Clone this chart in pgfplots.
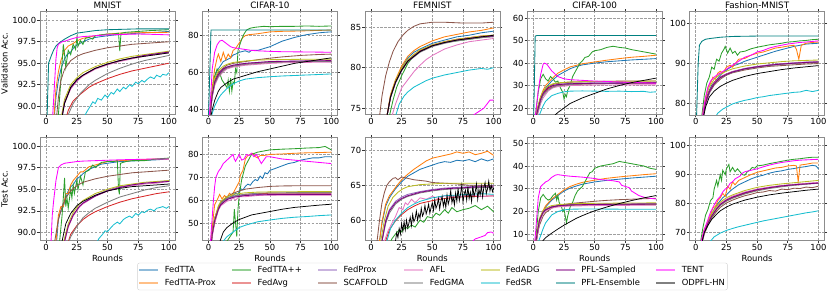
\documentclass[border=0pt]{standalone}
\usepackage{pgfplots}
\pgfplotsset{compat=1.18}
\usepackage{fontspec}
\setmainfont{DejaVu Sans}
\definecolor{cA}{HTML}{1F77B4}
\definecolor{cB}{HTML}{FF7F0E}
\definecolor{cC}{HTML}{2CA02C}
\definecolor{cD}{HTML}{D62728}
\definecolor{cE}{HTML}{9467BD}
\definecolor{cF}{HTML}{8C564B}
\definecolor{cG}{HTML}{E377C2}
\definecolor{cH}{HTML}{7F7F7F}
\definecolor{cI}{HTML}{BCBD22}
\definecolor{cJ}{HTML}{17BECF}
\definecolor{cK}{HTML}{800080}
\definecolor{cL}{HTML}{008080}
\definecolor{cM}{HTML}{FF00FF}
\definecolor{cN}{HTML}{000000}
\pgfplotsset{
 every axis title/.style={at={(0.5,1)}, anchor=south, yshift=1.5pt, inner sep=1pt, font=\fontsize{8.8}{10}\selectfont},
 panel/.style={scale only axis, width=135pt, height=103pt, anchor=north west,
   xmin=-5, xmax=105, xtick={0,25,50,75,100}, no markers,
   grid=major, grid style={dash pattern=on 2.6pt off 1.3pt, gray!75, line width=0.5pt},
   axis line style={gray!90}, tick align=outside, major tick length=2.5pt,
   tick style={black!80, line width=0.6pt},
   /pgf/number format/assume math mode=true,
   tick label style={font=\fontsize{8.4}{9}\selectfont, inner sep=1pt},
   label style={font=\fontsize{8.4}{10}\selectfont},
   every axis plot/.append style={line width=0.85pt},
 },
 pA/.style={cA}, pB/.style={cB}, pC/.style={cC}, pD/.style={cD}, pE/.style={cE},
 pF/.style={cF}, pG/.style={cG}, pH/.style={cH}, pI/.style={cI}, pJ/.style={cJ},
 pK/.style={cK}, pL/.style={cL}, pM/.style={cM}, pN/.style={cN, line width=0.75pt},
 intfmt/.style={yticklabel style={/pgf/number format/.cd, fixed, precision=0}},
}
\begin{document}
\begin{tikzpicture}
\useasboundingbox (0,0) rectangle (830pt,-294pt);
% ---------------- Row 1: Validation ----------------
\begin{axis}[panel, at={(40pt,-11.7pt)}, title={MNIST}, ylabel={Validation Acc.},
  ymin=89, ymax=101, ytick={90,92.5,95,97.5,100},
  yticklabel style={/pgf/number format/.cd, fixed, fixed zerofill, precision=1}]
\addplot[pA] coordinates {(0,80)(5,86)(8,91)(10,93)(12,94.3)(15,95.5)(17,96)(20,96.3)(23,96.9)(25,97.1)(30,97.5)(35,97.8)(40,98)(50,98.2)(60,98.35)(75,98.5)(90,98.6)(100,98.7)};
\addplot[pB] coordinates {(0,80)(5,86)(8,92)(10,94)(12,95.3)(15,96.5)(18,97)(22,97.3)(25,97.6)(30,97.9)(40,98.2)(50,98.4)(60,98.5)(75,98.55)(100,98.6)};
\addplot[pC] coordinates {(0,80)(8,86)(10,89)(12,93)(14,97.2)(15,96)(16,94.5)(18,96.5)(20,96)(22,97.2)(24,96.6)(25,97.9)(26,97)(28,97.6)(30,97.2)(32,97.9)(35,98)(38,97.8)(40,98.2)(45,98.3)(50,98.4)(55,98.4)(59,98.5)(60,96.4)(61,98.5)(65,98.6)(75,98.7)(85,98.8)(100,98.9)};
\addplot[pD] coordinates {(10,82)(15,88)(18,89.5)(22,90.6)(28,91.4)(35,92.2)(40,92.6)(50,93.2)(60,93.7)(70,94.1)(80,94.4)(90,94.7)(100,95.0)};
\addplot[pE] coordinates {(8,82)(12,88)(15,90.5)(20,92.2)(25,93)(30,93.6)(40,94.4)(50,94.9)(60,95.3)(70,95.6)(80,95.9)(90,96.1)(100,96.3)};
\addplot[pF] coordinates {(5,82)(8,88)(10,91)(12,93)(15,94.3)(20,95.3)(25,95.8)(30,96.1)(40,96.5)(50,96.8)(60,97)(70,97.2)(80,97.3)(90,97.4)(100,97.5)};
\addplot[pG] coordinates {(8,82)(12,88)(15,90.3)(20,92)(25,92.9)(30,93.5)(40,94.3)(50,94.8)(60,95.2)(70,95.5)(80,95.8)(90,96)(100,96.2)};
\addplot[pH] coordinates {(10,82)(15,87.5)(18,89)(22,90.3)(28,91.5)(35,92.5)(40,93)(50,93.8)(60,94.4)(70,94.9)(80,95.3)(90,95.6)(100,95.9)};
\addplot[pI] coordinates {(8,82)(12,88.5)(15,90.8)(20,92.5)(25,93.3)(30,93.9)(40,94.6)(50,95.1)(60,95.5)(70,95.8)(80,96)(90,96.2)(100,96.4)};
\addplot[pJ] coordinates {(25,86)(30,88.5)(33,89.3)(36,90)(38,90.5)(40,90.3)(42,90.9)(45,90.7)(48,91.3)(50,91)(53,91.6)(55,91.4)(58,92)(60,91.7)(63,92.2)(65,92)(68,92.5)(70,92.3)(73,92.8)(75,92.6)(78,93)(80,92.8)(83,93.2)(85,93.4)(88,93.2)(90,93.6)(93,93.4)(95,93.7)(98,93.6)(100,93.9)};
\addplot[pK] coordinates {(8,82)(12,88)(15,90.4)(20,92.1)(25,93)(30,93.6)(40,94.4)(50,94.9)(60,95.3)(70,95.6)(80,95.9)(90,96.1)(100,96.3)};
\addplot[pL] coordinates {(0,80)(1,90)(2,95)(4,95.8)(6,96.5)(8,97)(10,97.3)(15,97.8)(20,98.2)(25,98.5)(30,98.6)(40,98.8)(50,98.9)(75,99)(100,99)};
\addplot[pM] coordinates {(3,82)(5,88)(7,93)(8,95.5)(9,96.8)(10,97.2)(13,97.5)(16,97.6)(20,97.8)(25,98)(30,98.1)(40,98.2)(50,98.3)(75,98.4)(90,98.35)(100,98.3)};
\addplot[pN] coordinates {(8,82)(12,88)(15,90.3)(20,92.2)(25,93.1)(30,93.6)(40,94.4)(50,94.9)(60,95.3)(70,95.6)(80,95.8)(90,96)(100,96.2)};
\end{axis}
\begin{axis}[panel, intfmt, at={(202.4pt,-11.7pt)}, title={CIFAR-10},
  ymin=37.3, ymax=92.9, ytick={40,60,80}]
\addplot[pA] coordinates {(0,30)(3,50)(5,58)(7,61)(10,64)(12,66)(15,67)(18,68)(20,69.5)(22,70)(25,71)(28,71.5)(30,71.8)(33,71)(35,72)(40,72)(45,73)(50,74)(55,75.5)(60,77)(65,78)(70,79)(75,79.8)(80,80.5)(85,81)(90,81.5)(95,81.8)(100,82)};
\addplot[pB] coordinates {(0,30)(3,52)(5,62)(7,68)(8,70)(10,66)(12,71)(14,67)(16,70)(18,68)(20,72)(22,73)(24,75)(26,77)(28,79)(30,80)(33,80.5)(40,81)(50,82)(60,82.3)(75,82.5)(90,82.8)(100,83)};
\addplot[pC] coordinates {(0,30)(3,50)(5,58)(7,62)(9,60)(11,56)(13,54)(15,52)(16,56)(17,50)(18,57)(19,50)(20,55)(21,54)(22,62)(23,60)(24,72)(25,74)(27,78)(29,81)(31,83)(34,84)(38,84.5)(45,85)(50,84.8)(60,85)(70,85)(80,85.2)(90,85)(100,85.2)};
\addplot[pD] coordinates {(0,30)(3,48)(5,54)(8,58.5)(12,61.5)(15,62.5)(20,63.5)(30,64.5)(40,65)(50,65.5)(60,65.8)(75,66)(100,66.2)};
\addplot[pE] coordinates {(0,30)(3,48)(5,55)(8,59)(12,62)(15,63)(20,64)(30,65)(40,65.5)(50,65.8)(60,66)(75,66.2)(100,66.3)};
\addplot[pF] coordinates {(0,30)(3,50)(5,56)(8,60)(12,62.5)(15,64)(20,65)(30,66)(40,67)(50,67.8)(60,68.5)(75,69.3)(90,69.8)(100,70)};
\addplot[pG] coordinates {(0,30)(3,47)(5,53)(8,57.5)(12,60.5)(15,62)(20,63)(30,64)(40,64.5)(50,65)(60,65.3)(75,65.5)(100,65.7)};
\addplot[pH] coordinates {(0,30)(3,47)(5,54)(8,58)(12,61)(15,62.5)(20,63.5)(30,64.5)(40,65)(50,65.5)(75,66)(100,66)};
\addplot[pI] coordinates {(0,30)(3,50)(5,57)(8,61)(12,63.5)(15,64.5)(20,65.5)(30,66.3)(40,66.8)(50,67)(75,67.2)(100,67.3)};
\addplot[pJ] coordinates {(0,30)(3,38)(5,42)(8,46)(10,48)(15,51.5)(20,54)(25,55.5)(30,56.5)(40,57.3)(50,57.8)(60,58.2)(75,58.6)(90,59)(100,59.3)};
\addplot[pK] coordinates {(0,30)(3,48)(5,55)(8,59)(12,62)(15,63)(20,64)(30,65)(40,65.5)(50,66)(75,66.3)(100,66.5)};
\addplot[pL] coordinates {(0,37)(1,60)(2,83)(5,83)(100,83)};
\addplot[pM] coordinates {(0,30)(2,50)(3,62)(5,71)(7,75)(9,77)(11,77.5)(13,76.5)(15,75.5)(18,74)(20,73.5)(25,73)(30,72.5)(35,72)(40,71.8)(50,71.5)(60,71.3)(75,71.2)(100,71)};
\addplot[pN] coordinates {(0,30)(3,40)(5,45)(8,50)(10,52)(15,54.5)(20,56.5)(25,57.5)(30,58.5)(40,60.5)(50,62)(60,63.5)(70,65)(80,66)(90,67)(100,68)};
\end{axis}
\begin{axis}[panel, intfmt, at={(364.8pt,-11.7pt)}, title={FEMNIST},
  ymin=74.2, ymax=86.9, ytick={75,80,85}]
\addplot[pA] coordinates {(10,70)(13,74)(16,76.5)(20,78.3)(25,80)(30,81.2)(35,81.9)(40,82.3)(50,83)(60,83.4)(70,83.8)(80,84)(90,84.3)(100,84.5)};
\addplot[pB] coordinates {(10,70)(13,74)(16,76.7)(20,78.5)(25,80.2)(30,81.4)(35,82.1)(40,82.6)(50,83.3)(60,83.8)(70,84.1)(80,84.4)(90,84.6)(100,84.9)};
\addplot[pC] coordinates {(12,70)(15,74)(18,76)(21,77.6)(25,79)(30,80.5)(35,81.5)(40,82)(50,82.7)(60,83.1)(75,83.4)(90,83.7)(100,83.9)};
\addplot[pD] coordinates {(10,70)(13,74)(16,76.5)(20,78.3)(25,79.8)(30,80.9)(35,81.6)(40,82.1)(50,82.8)(60,83.2)(70,83.5)(80,83.7)(90,83.9)(100,84)};
\addplot[pE] coordinates {(10,70)(13,74)(16,76.4)(20,78.2)(25,79.7)(30,80.8)(35,81.5)(40,82)(50,82.7)(60,83.1)(70,83.4)(80,83.6)(90,83.8)(100,83.9)};
\addplot[pF] coordinates {(5,70)(7,74)(9,76.5)(12,79)(15,80.7)(18,82)(22,83.2)(26,84)(30,84.6)(35,85.1)(40,85.4)(50,85.6)(60,85.6)(75,85.5)(90,85.5)(100,85.6)};
\addplot[pG] coordinates {(14,70)(17,74)(20,75.5)(25,77.5)(30,78.5)(35,79.5)(40,80.3)(45,81)(50,81.5)(60,82.3)(70,82.8)(80,83.2)(90,83.4)(100,83.6)};
\addplot[pH] coordinates {(10,70)(13,74)(16,76.3)(20,78.1)(25,79.6)(30,80.7)(40,81.9)(50,82.6)(60,83)(70,83.3)(80,83.5)(90,83.7)(100,83.8)};
\addplot[pI] coordinates {(10,70)(13,74)(16,76.6)(20,78.4)(25,79.9)(30,81)(40,82.2)(50,82.8)(60,83.2)(70,83.5)(80,83.7)(90,83.9)(100,84)};
\addplot[pJ] coordinates {(17,70)(20,74)(23,75.5)(27,76.5)(30,77)(35,77.6)(40,78)(45,78.4)(50,78.7)(55,78.9)(60,79.1)(70,79.4)(80,79.7)(90,79.9)(95,79.8)(100,80)};
\addplot[pK] coordinates {(10,70)(13,74)(16,76.4)(20,78.2)(25,79.7)(30,80.8)(40,82)(50,82.7)(60,83.1)(70,83.4)(80,83.6)(90,83.8)(100,83.9)};
\addplot[pM] coordinates {(80,73)(84,74.2)(88,74.6)(92,75)(95,75.6)(97,76)(100,76)};
\addplot[pN] coordinates {(10,70)(13,74)(16,76.4)(20,78.2)(25,79.7)(30,80.8)(40,82)(50,82.7)(60,83.1)(70,83.4)(80,83.6)(90,83.8)(100,84)};
\end{axis}
\begin{axis}[panel, intfmt, at={(527.2pt,-11.7pt)}, title={CIFAR-100},
  ymin=17, ymax=62.9, ytick={20,30,40,50,60}]
\addplot[pA] coordinates {(0,10)(2,15)(4,20)(6,24)(8,27)(10,29)(15,32)(20,34.5)(25,36)(30,37.5)(35,38.5)(40,39.2)(50,40)(60,40.6)(70,41)(80,41.4)(90,41.7)(100,42)};
\addplot[pB] coordinates {(0,10)(2,15)(4,21)(6,25)(8,28)(10,30)(15,33)(20,35.5)(25,37)(30,38.3)(35,39)(40,39.7)(50,40.5)(60,41.3)(70,42)(80,42.6)(90,43)(100,43.5)};
\addplot[pC] coordinates {(0,10)(2,18)(4,27)(6,33)(8,35)(10,33)(12,32)(14,34)(16,33)(18,31.5)(20,32)(22,29)(24,27)(25,24)(26,26)(27,25)(28,28)(30,30)(32,34)(34,36)(36,38)(38,40)(40,41)(42,42.5)(45,43)(48,45)(50,45.5)(55,46)(60,47)(65,47.5)(70,47)(75,46.7)(80,46)(85,45.5)(90,45)(95,44.5)(100,44)};
\addplot[pD] coordinates {(0,10)(3,18)(6,24)(8,26)(12,28.5)(16,29.5)(20,30)(30,30.5)(50,30.8)(75,31)(100,31)};
\addplot[pE] coordinates {(0,10)(3,18)(6,24.5)(8,26.5)(12,29)(16,30)(20,30.5)(30,31)(50,31.2)(75,31.3)(100,31.4)};
\addplot[pF] coordinates {(0,10)(3,19)(6,25)(8,27)(12,29.5)(16,30.5)(20,31)(30,31.5)(50,31.8)(75,32)(100,32)};
\addplot[pG] coordinates {(0,10)(3,16)(6,22)(8,24.5)(12,27.5)(16,29)(20,29.5)(30,30)(50,30.2)(75,30.3)(100,30.3)};
\addplot[pH] coordinates {(0,10)(3,17)(6,23)(8,25.5)(12,28)(16,29.3)(20,30)(30,30.5)(50,30.8)(75,31)(100,31)};
\addplot[pI] coordinates {(0,10)(3,19)(6,25)(8,27.5)(12,29.8)(16,30.8)(20,31.2)(30,31.6)(50,31.8)(75,31.9)(100,32)};
\addplot[pJ] coordinates {(0,10)(3,13)(5,17)(8,21)(10,23)(15,25.5)(20,26.5)(25,27.2)(30,27.5)(40,27.6)(50,27.5)(60,27.4)(70,27.5)(80,27.3)(90,27.4)(95,27)(100,27.2)};
\addplot[pK] coordinates {(0,10)(3,18)(6,24)(8,26.5)(12,29)(16,30)(20,30.4)(30,30.8)(50,31)(75,31.1)(100,31.2)};
\addplot[pL] coordinates {(0,10)(0.8,30)(1.5,52)(3,52.3)(100,52.3)};
\addplot[pM] coordinates {(0,10)(2,18)(4,28)(6,35)(8,39.5)(9,40)(11,39.5)(13,38)(15,36.5)(18,35)(20,34)(25,33)(30,32.6)(40,32.3)(50,32)(60,31.8)(75,31.5)(90,31.2)(100,31)};
\addplot[pN] coordinates {(5,10)(10,12)(15,15.5)(20,18)(25,20)(30,22)(40,24.5)(50,26.5)(60,28.5)(70,30)(80,31.3)(90,32.3)(100,33.3)};
\end{axis}
\begin{axis}[panel, intfmt, at={(689.6pt,-11.7pt)}, title={Fashion-MNIST},
  ymin=77.1, ymax=102.9, ytick={80,90,100}]
\addplot[pA] coordinates {(3,70)(6,77)(8,80.5)(10,82.5)(13,84.5)(16,85.5)(20,87)(25,88.3)(30,89.3)(35,89.8)(40,90.5)(45,91)(50,91.5)(55,92)(60,92.5)(65,93)(70,93.4)(75,93.8)(80,94.2)(85,94.5)(90,94.8)(100,95)};
\addplot[pB] coordinates {(3,70)(6,78)(8,81)(10,84)(12,85)(14,86.5)(16,86)(18,87.5)(20,88)(22,87.5)(25,89)(28,89.5)(30,89)(35,91)(40,91.2)(45,92)(50,92.5)(55,92.8)(60,93.3)(65,93.8)(70,94)(75,94.3)(80,94.5)(82,93.5)(84,91)(86,94.5)(90,95)(95,95.2)(100,95.3)};
\addplot[pC] coordinates {(3,70)(5,77)(7,82)(9,85)(11,86.5)(13,89)(15,88.5)(17,91)(19,90.5)(21,92.5)(23,93.5)(24,94.2)(26,92.5)(28,93.8)(30,92.5)(32,93)(34,92)(36,92.8)(40,93)(45,93.6)(50,94)(55,94.3)(60,94.6)(65,94.8)(70,95)(75,95.3)(80,95.4)(85,95.6)(90,95.7)(95,95.9)(100,96)};
\addplot[pD] coordinates {(3,70)(6,77)(8,80.5)(11,83)(15,85.2)(20,86.6)(25,87.3)(30,87.9)(40,88.6)(50,89.1)(60,89.5)(70,89.8)(80,90)(90,90.1)(100,90.2)};
\addplot[pE] coordinates {(3,70)(6,77)(8,80)(11,82.8)(15,85)(20,86.5)(25,87.3)(30,87.9)(40,88.7)(50,89.2)(60,89.6)(70,89.9)(80,90.1)(90,90.3)(100,90.4)};
\addplot[pF] coordinates {(3,70)(6,77)(8,80)(11,82.5)(15,84.5)(20,86)(25,87)(30,87.6)(40,88.3)(50,88.8)(60,89.2)(70,89.4)(80,89.6)(90,89.8)(100,89.9)};
\addplot[pG] coordinates {(3,70)(6,76)(8,79.5)(11,82.5)(15,85)(20,86.5)(25,87.2)(30,87.8)(40,88.6)(50,89.1)(60,89.5)(70,89.8)(80,90)(90,90.2)(100,90.3)};
\addplot[pH] coordinates {(3,70)(6,76.5)(8,80)(11,82.5)(15,84.8)(20,86.3)(25,87.1)(30,87.7)(40,88.5)(50,89)(60,89.4)(70,89.7)(80,89.9)(90,90.1)(100,90.2)};
\addplot[pI] coordinates {(3,70)(6,78)(8,81.5)(11,84)(15,86)(20,87.3)(25,88)(30,88.6)(40,89.3)(50,89.8)(60,90.1)(70,90.4)(80,90.6)(90,90.7)(100,90.8)};
\addplot[pJ] coordinates {(10,70)(15,76)(18,77.5)(22,78.5)(25,79)(30,79.8)(35,80.3)(40,80.7)(45,81)(50,81.4)(55,81.6)(60,81.9)(65,82.1)(70,82.3)(75,82.5)(80,82.7)(85,82.8)(90,83.2)(95,82.9)(100,83.2)};
\addplot[pK] coordinates {(3,70)(6,76.5)(8,80)(11,82.8)(15,84.9)(20,86.4)(25,87.2)(30,87.8)(40,88.6)(50,89.1)(60,89.5)(70,89.8)(80,90)(90,90.2)(100,90.3)};
\addplot[pL] coordinates {(0,70)(1,80)(2,90)(3,94.5)(5,95.5)(8,96)(12,96.2)(20,96.5)(30,96.7)(50,96.8)(75,96.8)(100,96.8)};
\addplot[pM] coordinates {(3,70)(6,78)(8,81.5)(10,84)(12,85.5)(15,86.5)(18,87.2)(20,87.5)(25,88.5)(30,89.5)(35,90.5)(40,91.5)(45,92)(50,92.8)(55,93.2)(60,93.8)(65,94.2)(70,94.5)(75,94.8)(80,95)(85,95.2)(90,95.3)(100,95.6)};
\addplot[pN] coordinates {(3,70)(6,76)(8,79)(11,81.5)(15,83)(20,84.2)(25,85)(30,85.7)(40,86.7)(50,87.4)(60,87.9)(70,88.4)(80,88.8)(90,89.1)(100,89.4)};
\end{axis}
% ---------------- Row 2: Test ----------------
\begin{axis}[panel, at={(40pt,-137.3pt)}, xlabel={Rounds}, ylabel={Test Acc.},
  ymin=89.1, ymax=101, ytick={90,92.5,95,97.5,100},
  yticklabel style={/pgf/number format/.cd, fixed, fixed zerofill, precision=1}]
\addplot[pA] coordinates {(5,80)(8,88)(10,91.5)(12,92.5)(14,93)(16,94)(18,94.8)(20,95.3)(22,95.5)(25,96.2)(28,96.5)(30,96.8)(35,97.3)(40,97.6)(45,97.9)(50,98)(60,98.2)(75,98.3)(90,98.4)(100,98.5)};
\addplot[pB] coordinates {(5,80)(8,89)(10,92)(12,93)(14,93)(16,94.5)(18,94.5)(20,95.5)(22,96)(25,96.5)(28,97)(30,97)(35,97.6)(40,97.8)(45,98)(50,98.2)(60,98.3)(75,98.4)(90,98.5)(100,98.5)};
\addplot[pC] coordinates {(8,82)(11,89)(13,92)(14,94)(15,96.3)(16,93)(17,94)(18,92.8)(20,95)(21,94)(22,95.5)(23,94.5)(25,96)(26,95)(28,96.5)(30,95.5)(32,97)(35,97.2)(38,97.8)(40,97.5)(45,98.1)(50,98.2)(55,98.2)(58,98.3)(59,95)(59.7,94.4)(60.5,98)(65,98.2)(70,98.3)(75,98.3)(80,98.3)(90,98.5)(100,98.6)};
\addplot[pD] coordinates {(12,84)(16,88)(20,89.8)(25,90.8)(30,91.5)(35,92)(40,92.4)(50,93)(60,93.5)(70,93.9)(80,94.2)(90,94.5)(100,94.7)};
\addplot[pE] coordinates {(10,84)(14,88.5)(18,90.8)(22,92)(27,93)(30,93.4)(40,94.3)(50,94.9)(60,95.3)(70,95.5)(80,95.7)(90,95.8)(100,96)};
\addplot[pF] coordinates {(4,82)(7,89)(10,91.5)(13,93)(16,94)(20,94.8)(25,95.4)(30,95.8)(40,96.2)(50,96.5)(60,96.7)(70,96.9)(80,97)(90,97.1)(100,97.2)};
\addplot[pG] coordinates {(10,84)(14,88.3)(18,90.6)(22,91.9)(27,92.9)(30,93.3)(40,94.2)(50,94.8)(60,95.2)(70,95.4)(80,95.6)(90,95.7)(100,95.9)};
\addplot[pH] coordinates {(12,84)(16,88)(20,89.5)(25,90.7)(30,91.7)(35,92.3)(40,92.8)(50,93.5)(60,94.1)(70,94.5)(80,94.9)(90,95.2)(100,95.4)};
\addplot[pI] coordinates {(10,84)(14,88.8)(18,91)(22,92.3)(27,93.3)(30,93.7)(40,94.5)(50,95)(60,95.4)(70,95.6)(80,95.8)(90,95.9)(100,96)};
\addplot[pJ] coordinates {(35,86)(40,88.5)(43,89.3)(46,89.8)(48,90.2)(50,90.1)(53,90.6)(55,90.9)(58,91.2)(60,91)(63,91.5)(65,91.7)(68,91.9)(70,91.7)(73,92.2)(75,92)(78,92.4)(80,92.3)(83,92.6)(85,92.7)(88,92.5)(90,92.8)(93,92.9)(95,93)(98,92.8)(100,93)};
\addplot[pK] coordinates {(10,84)(14,88.4)(18,90.7)(22,92)(27,93)(30,93.4)(40,94.2)(50,94.8)(60,95.2)(70,95.5)(80,95.7)(90,95.8)(100,95.9)};
\addplot[pM] coordinates {(2,82)(4,89)(5,92)(6,93.5)(8,96)(10,97.5)(12,97.8)(15,98)(20,98.1)(25,98.2)(30,98.25)(40,98.3)(50,98.35)(60,98.4)(75,98.45)(90,98.5)(100,98.5)};
\addplot[pN] coordinates {(10,84)(13,89)(16,91)(20,92.2)(25,93.1)(30,93.6)(40,94.3)(50,94.8)(60,95.1)(70,95.3)(80,95.4)(90,95.5)(100,95.6)};
\end{axis}
\begin{axis}[panel, intfmt, at={(202.4pt,-137.3pt)}, xlabel={Rounds},
  ymin=42.4, ymax=87.5, ytick={50,60,70,80}]
\addplot[pA] coordinates {(0,30)(3,45)(5,52)(7,55)(10,58)(12,60)(15,61)(18,61.5)(20,62)(22,63)(24,62.5)(26,65)(28,64.5)(30,66)(32,67)(34,66.5)(36,68)(38,69)(40,68.5)(42,70.5)(44,69.5)(46,72)(48,71.5)(50,73)(55,74)(60,75)(65,76)(70,76.5)(75,77.5)(80,78)(85,78.5)(90,78.5)(95,79)(100,79)};
\addplot[pB] coordinates {(0,30)(3,48)(5,58)(7,60)(9,62.5)(11,60.5)(13,62)(15,61)(17,63)(19,62)(21,64)(23,66)(25,68)(26,71)(28,73)(30,78)(32,79.5)(34,80)(36,80.5)(38,79)(40,78.5)(42,79.5)(45,79.5)(50,80)(60,80.2)(70,80.5)(80,80.7)(90,80.8)(100,81)};
\addplot[pC] coordinates {(5,35)(10,40)(15,42)(20,46)(21,56)(22,50)(23,44)(24,56)(25,62)(27,69)(30,75)(33,78)(35,80)(40,81)(45,81.5)(50,82)(60,82.3)(70,82.5)(80,82.8)(90,83)(95,83.5)(100,82)};
\addplot[pD] coordinates {(0,30)(3,45)(5,50)(8,56)(10,58)(15,60.5)(20,61.5)(30,62.5)(40,62.8)(50,63)(75,63)(100,63)};
\addplot[pE] coordinates {(0,30)(3,45)(5,51)(8,56.5)(10,58.5)(15,60.5)(20,61.5)(30,62.2)(40,62.5)(50,62.6)(75,62.6)(100,62.6)};
\addplot[pF] coordinates {(0,30)(3,47)(5,52)(8,57)(10,59)(15,61.5)(20,63)(25,64)(30,64.8)(40,65.5)(50,66)(60,66.2)(75,66.3)(100,66.3)};
\addplot[pG] coordinates {(0,30)(3,44)(5,50)(8,55.5)(10,57.5)(15,59.5)(18,60)(20,61)(22,60)(25,61.5)(30,61.5)(40,62)(50,62.2)(75,62.2)(100,62.2)};
\addplot[pH] coordinates {(0,30)(3,45)(5,51)(8,56)(10,58.5)(15,60.8)(20,61.8)(30,62.6)(40,63)(50,63.2)(75,63.3)(100,63.3)};
\addplot[pI] coordinates {(0,30)(3,46)(5,52)(8,57.5)(10,59.5)(15,61.5)(20,62.5)(30,63.2)(40,63.5)(50,63.6)(75,63.7)(100,63.7)};
\addplot[pJ] coordinates {(5,35)(10,40)(12,42)(15,44)(20,46)(25,48)(30,49)(40,50.5)(50,51.3)(60,52)(70,52.5)(80,52.8)(90,53.2)(100,53.5)};
\addplot[pK] coordinates {(0,30)(3,45)(5,51)(8,56)(10,58)(15,60.2)(20,61.2)(30,62)(40,62.3)(50,62.4)(75,62.5)(100,62.5)};
\addplot[pM] coordinates {(0,30)(2,45)(4,60)(5,66)(6,70)(8,72.5)(10,74)(12,76)(14,77)(16,78)(18,79)(20,80)(21,78)(22,77)(24,79)(25,80)(27,77.5)(29,78)(31,80)(33,79.5)(35,80.5)(37,79)(39,80)(41,78)(43,76)(45,77.5)(47,79)(50,79)(55,78.5)(60,78)(70,77.5)(80,77)(90,76.5)(100,76)};
\addplot[pN] coordinates {(5,35)(8,40)(10,43)(12,46)(15,48)(20,50)(25,51.5)(30,52.5)(35,53.5)(40,54)(50,55)(60,56)(70,56.8)(80,57.3)(90,57.8)(100,58.2)};
\end{axis}
\begin{axis}[panel, intfmt, at={(364.8pt,-137.3pt)}, xlabel={Rounds},
  ymin=57.1, ymax=71.9, ytick={60,65,70}]
\addplot[pA] coordinates {(4,52)(7,57)(9,59.5)(12,62)(15,63.2)(18,64)(20,64.5)(25,65.5)(30,66.3)(35,66.8)(40,67.3)(45,67.6)(50,67.9)(55,68.2)(60,68.4)(65,68.3)(70,68.6)(75,68.5)(80,68.7)(85,68.4)(90,68.8)(95,68.5)(100,68.8)};
\addplot[pB] coordinates {(4,52)(7,57)(9,59.8)(12,62.3)(15,63.5)(18,64.2)(20,64.7)(25,65.8)(30,66.6)(35,67.3)(40,67.9)(45,68.5)(50,68.9)(55,69.1)(60,69.3)(65,69.5)(70,69.8)(75,69.6)(80,69.8)(85,69.4)(90,69.6)(95,69.9)(100,69.3)};
\addplot[pC] coordinates {(12,55)(17,57.3)(20,58)(23,58.6)(25,58.3)(28,59)(30,58.8)(33,59.3)(36,59)(40,60)(43,59.7)(46,60.5)(50,60.3)(53,61)(56,60.7)(60,61.5)(63,61)(66,61.8)(70,61.2)(75,61.5)(80,61.7)(85,62.1)(90,61.5)(95,62)(100,61.2)};
\addplot[pD] coordinates {(8,53)(12,57)(15,58.6)(20,59.9)(25,60.8)(30,61.5)(35,62)(40,62.4)(50,62.8)(60,63.1)(70,63.3)(80,63.4)(90,63.4)(100,63.5)};
\addplot[pE] coordinates {(5,53)(9,57)(12,60)(15,61.5)(20,62.7)(25,63.3)(30,63.7)(40,64.1)(50,64.4)(60,64.6)(70,64.7)(80,64.8)(90,64.9)(100,65)};
\addplot[pF] coordinates {(2,52)(5,57)(7,60)(9,62.5)(11,64)(13,65)(15,65.5)(18,66)(20,66.1)(22,65.8)(25,66.2)(30,66)(35,65.8)(40,65.7)(45,65.6)(50,65.4)(60,65.3)(70,65.2)(80,65)(90,65)(100,64.9)};
\addplot[pG] coordinates {(8,52)(11,57)(14,58.5)(17,59.5)(20,60.5)(23,61.8)(26,61.5)(28,62.5)(30,62.2)(33,63)(36,62.5)(40,63.2)(45,63)(50,63.4)(55,63.1)(60,63.5)(70,63.3)(80,63.6)(90,63.4)(100,63.5)};
\addplot[pH] coordinates {(5,52)(9,57)(12,59.5)(15,61)(20,62.3)(25,63)(30,63.4)(40,63.9)(50,64.2)(60,64.4)(70,64.5)(80,64.6)(90,64.7)(100,64.7)};
\addplot[pI] coordinates {(4,53)(8,57)(11,60)(14,62)(18,63.3)(22,64)(26,64.5)(30,64.8)(40,65.1)(50,65.2)(60,65.3)(75,65.3)(100,65.3)};
\addplot[pJ] coordinates {(9,53)(13,57)(16,58.8)(20,60)(25,61)(30,61.8)(35,62.3)(40,62.7)(50,63.2)(60,63.5)(70,63.6)(80,63.7)(90,63.8)(100,63.7)};
\addplot[pK] coordinates {(5,53)(9,57)(12,59.8)(15,61.3)(20,62.5)(25,63.1)(30,63.5)(40,64)(50,64.3)(60,64.5)(70,64.6)(80,64.7)(90,64.8)(100,64.8)};
\addplot[pM] coordinates {(80,56.5)(85,57.3)(90,57.6)(93,57.8)(95,58.2)(98,58.3)(100,58.1)};
\addplot[pN] coordinates {(18,55)(20,57)(21,58.2)(22,57.5)(23,58.8)(24,58)(25,59.5)(26,58.4)(27,59.8)(28,58.6)(29,60)(30,58.9)(31,59.6)(32,60.4)(33,59.2)(34,60.8)(35,59.8)(36,60.2)(37,61.3)(38,60)(39,60.9)(40,60.3)(41,61.7)(42,60.6)(43,61)(44,62.1)(45,60.9)(46,61.5)(47,62.3)(48,61)(49,61.8)(50,62.5)(51,61.4)(52,62.9)(53,61.7)(54,62.2)(55,63.1)(56,61.6)(57,62.7)(58,63.4)(59,62)(60,62.9)(61,61.8)(62,63.6)(63,62.3)(64,63)(65,64.2)(66,62.5)(67,63.3)(68,62.2)(69,63.9)(70,62.7)(71,64.6)(72,62.8)(73,63.7)(74,65)(75,62.6)(76,63.8)(77,64.3)(78,62.9)(79,64.8)(80,63.1)(81,64)(82,62.7)(83,64.9)(84,63.4)(85,64.1)(86,65.2)(87,63)(88,64.4)(89,63.6)(90,64.9)(91,63.3)(92,64.7)(93,65.4)(94,63.8)(95,64.5)(96,65.6)(97,64.2)(98,65)(99,64.1)(100,64.6)};
\end{axis}
\begin{axis}[panel, intfmt, at={(527.2pt,-137.3pt)}, xlabel={Rounds},
  ymin=7.35, ymax=52.6, ytick={10,20,30,40,50}]
\addplot[pA] coordinates {(0,0)(2,5)(4,12)(6,17)(8,20)(10,22)(15,25)(20,27)(25,29)(30,30.3)(35,31.2)(40,32)(50,33)(60,33.7)(70,34.2)(80,34.7)(90,35.1)(100,35.5)};
\addplot[pB] coordinates {(0,0)(2,5)(4,12.5)(6,17.5)(8,20.5)(10,22.5)(15,25.5)(20,27.5)(25,29.5)(30,31)(35,32)(40,32.8)(50,33.8)(60,34.6)(70,35.2)(80,35.7)(90,36.2)(100,36.6)};
\addplot[pC] coordinates {(0,0)(2,8)(4,20)(6,26)(8,27.5)(10,26)(12,25)(14,25.5)(16,27)(18,28)(19,25)(20,27)(21,24)(22,23)(23,22)(24,20)(25,21)(26,18)(27,15)(28,18)(30,22)(32,24)(34,27)(36,29)(38,30)(40,31)(42,33)(44,35)(46,37)(48,37.5)(50,39)(55,40)(60,40.5)(65,41)(70,42)(75,41.5)(80,41)(85,40.5)(90,40)(95,39)(100,38.5)};
\addplot[pD] coordinates {(0,0)(3,10)(5,16)(8,19.5)(10,20.5)(15,21.8)(20,22.3)(30,22.7)(50,22.9)(75,23)(100,23)};
\addplot[pE] coordinates {(0,0)(3,10)(5,16.5)(8,20)(10,21)(15,22.2)(20,22.7)(30,23.1)(50,23.3)(75,23.4)(100,23.5)};
\addplot[pF] coordinates {(0,0)(3,9)(5,14)(8,18)(10,19.5)(15,21.5)(20,22.5)(30,23.5)(40,24)(50,24.5)(60,24.9)(70,25.2)(80,25.4)(90,25.6)(100,25.8)};
\addplot[pG] coordinates {(0,0)(3,9)(5,15)(8,19)(10,20.3)(15,21.5)(20,22)(30,22.4)(50,22.6)(75,22.7)(100,22.8)};
\addplot[pH] coordinates {(0,0)(3,10)(5,16)(8,19.5)(10,20.7)(15,22)(20,22.5)(30,22.9)(50,23.1)(75,23.2)(100,23.2)};
\addplot[pI] coordinates {(0,0)(3,11)(5,17)(8,20.5)(10,21.5)(15,22.6)(20,23)(30,23.4)(50,23.6)(75,23.7)(100,23.8)};
\addplot[pJ] coordinates {(0,0)(3,4)(5,8)(8,12.5)(10,15)(15,18.5)(20,20)(25,20.7)(30,21)(40,21.1)(50,21.1)(75,21)(100,21)};
\addplot[pK] coordinates {(0,0)(3,10)(5,16.3)(8,19.8)(10,20.8)(15,22)(20,22.5)(30,22.9)(50,23.1)(75,23.2)(100,23.3)};
\addplot[pM] coordinates {(0,0)(2,12)(4,26)(6,31)(8,32)(10,33)(12,33.5)(15,35)(18,36)(20,36.2)(25,35.8)(30,35.5)(35,35.3)(40,35.1)(45,34.8)(50,34.5)(55,34)(60,33.8)(65,33.5)(70,33)(72,31.5)(75,31)(78,30.5)(80,29)(83,28)(86,27)(90,26.3)(95,25.8)(100,25.5)};
\addplot[pN] coordinates {(5,5)(8,7.3)(10,8.5)(15,10.5)(20,12.3)(25,14)(30,15.5)(35,17)(40,18.2)(45,19.3)(50,20.3)(60,22)(70,23.5)(80,24.8)(90,26)(100,27)};
\end{axis}
\begin{axis}[panel, intfmt, at={(689.6pt,-137.3pt)}, xlabel={Rounds},
  ymin=67.3, ymax=102.9, ytick={70,80,90,100}]
\addplot[pA] coordinates {(2,60)(5,67)(7,70)(10,73)(12,75.5)(15,78)(18,80)(20,81)(22,82)(25,83)(28,84.3)(30,85)(35,86.5)(40,87.5)(45,88.5)(50,89.3)(55,89.8)(60,90.5)(65,91)(70,91.3)(75,91.8)(80,92.1)(85,92.5)(90,92.8)(95,93.2)(98,93)(100,92)};
\addplot[pB] coordinates {(2,60)(5,68)(7,71)(10,74)(12,76)(14,78.5)(16,79)(18,81)(20,82)(22,83.5)(24,82.5)(26,86)(28,85)(30,87.5)(32,86.5)(35,88)(40,89)(45,90)(50,90.8)(55,91.3)(60,91.8)(65,92.3)(70,92.5)(75,93)(80,93.2)(82,93)(83.5,87.5)(85,93.3)(90,93.6)(95,94)(100,94)};
\addplot[pC] coordinates {(2,60)(4,67)(6,72)(8,76)(10,78)(12,81)(14,82)(15,85)(17,88)(18,86)(20,90)(21,88)(22,91.5)(24,90)(25,92)(27,93.5)(28,91)(30,92.5)(32,91)(34,92)(36,91)(38,90)(40,89.8)(42,91)(44,91.5)(46,92.5)(48,92.2)(50,93)(55,93.3)(60,93.8)(65,94.2)(70,94.6)(75,95)(80,95.3)(85,95.5)(90,95.8)(95,96)(100,96)};
\addplot[pD] coordinates {(2,60)(5,67)(7,70)(10,73)(13,75.5)(17,78)(20,79.5)(25,81)(30,82)(40,83.5)(50,84.6)(60,85.4)(70,86)(80,86.4)(90,86.8)(100,87.1)};
\addplot[pE] coordinates {(2,60)(5,67)(7,70.5)(10,73.3)(13,75.8)(17,78.3)(20,79.8)(25,81.3)(30,82.3)(40,83.8)(50,84.9)(60,85.6)(70,86.2)(80,86.6)(90,86.9)(100,87.2)};
\addplot[pF] coordinates {(2,60)(5,66.5)(7,69.5)(10,72.5)(13,75)(17,77.3)(20,78.7)(25,80.2)(30,81.2)(35,82)(40,82.7)(45,83.2)(50,83.8)(55,84)(60,84.5)(65,84.3)(70,85)(75,84.8)(80,85.3)(85,85.2)(90,85.7)(95,85.5)(100,86)};
\addplot[pG] coordinates {(2,60)(5,66)(7,69.5)(10,73)(13,76)(17,78.5)(20,80)(25,81.5)(30,82.6)(40,84)(50,85)(60,85.7)(70,86.2)(80,86.6)(90,87)(100,87.3)};
\addplot[pH] coordinates {(2,60)(5,66.5)(7,70)(10,73)(13,75.5)(17,78)(20,79.3)(25,80.8)(30,81.8)(40,83.3)(50,84.4)(60,85.2)(70,85.8)(80,86.3)(90,86.7)(100,87)};
\addplot[pI] coordinates {(2,60)(5,67.5)(7,71)(10,74)(13,76.5)(17,79)(20,80.5)(25,82)(30,83)(40,84.5)(50,85.6)(60,86.3)(70,86.8)(80,87.2)(90,87.6)(100,88)};
\addplot[pJ] coordinates {(8,62)(12,67)(15,68.5)(20,69.8)(25,70.7)(30,71.4)(35,72)(40,72.5)(45,73)(50,73.5)(55,74)(60,74.4)(65,74.8)(70,75.2)(75,75.6)(80,76)(85,76.4)(90,76.8)(95,77.1)(100,77.5)};
\addplot[pK] coordinates {(2,60)(5,67)(7,70.3)(10,73.2)(13,75.7)(17,78.2)(20,79.7)(25,81.2)(30,82.2)(40,83.7)(50,84.8)(60,85.5)(70,86.1)(80,86.5)(90,86.8)(100,87.1)};
\addplot[pM] coordinates {(2,60)(5,68)(7,71)(10,74.5)(12,77)(15,79.5)(17,81)(20,82.5)(22,84)(24,85)(26,85.5)(28,87)(30,87.5)(32,88.5)(34,89)(36,89.5)(38,90.5)(40,91)(45,91.5)(50,92)(55,92.7)(60,93.3)(65,93.8)(70,94.2)(75,94.5)(80,94.8)(85,95)(90,95.1)(95,95.2)(100,95.3)};
\addplot[pN] coordinates {(2,60)(5,66.5)(7,70)(10,72.5)(13,74.5)(17,76.3)(20,77.5)(25,78.8)(30,79.8)(40,81.2)(50,82.2)(60,83)(70,83.6)(80,84.1)(90,84.6)(100,85)};
\end{axis}
% ---------------- Legend ----------------
\begin{axis}[at={(432.5pt,-276.5pt)}, anchor=center, hide axis, scale only axis,
  width=10pt, height=10pt, xmin=0, xmax=1, ymin=0, ymax=1,
  legend columns=7, legend cell align=left,
  legend style={at={(0.5,0.5)}, anchor=center, draw=black!18, rounded corners=2pt,
    inner sep=1pt, font=\fontsize{8.4}{9}\selectfont,
    nodes={inner xsep=1.5pt, inner ysep=2.2pt, text height=6.3pt, text depth=1.8pt},
    /tikz/every odd column/.append style={column sep=4pt},
    /tikz/every even column/.append style={column sep=14pt}},
  legend image code/.code={\draw[#1] (0pt,0pt) -- (19pt,0pt);}]
\addlegendimage{cA!50!white, line width=1.8pt}
\addlegendimage{cC!50!white, line width=1.8pt}
\addlegendimage{cE!50!white, line width=1.8pt}
\addlegendimage{cG!50!white, line width=1.8pt}
\addlegendimage{cI!50!white, line width=1.8pt}
\addlegendimage{cK!50!white, line width=1.8pt}
\addlegendimage{cM!50!white, line width=1.8pt}
\addlegendimage{cB!50!white, line width=1.8pt}
\addlegendimage{cD!50!white, line width=1.8pt}
\addlegendimage{cF!50!white, line width=1.8pt}
\addlegendimage{cH!50!white, line width=1.8pt}
\addlegendimage{cJ!50!white, line width=1.8pt}
\addlegendimage{cL!50!white, line width=1.8pt}
\addlegendimage{cN!50!white, line width=1.8pt}
\legend{FedTTA, FedTTA++, FedProx, AFL, FedADG, PFL-Sampled, TENT, FedTTA-Prox, FedAvg, SCAFFOLD, FedGMA, FedSR, PFL-Ensemble, ODPFL-HN}
\end{axis}
\end{tikzpicture}
\end{document}
